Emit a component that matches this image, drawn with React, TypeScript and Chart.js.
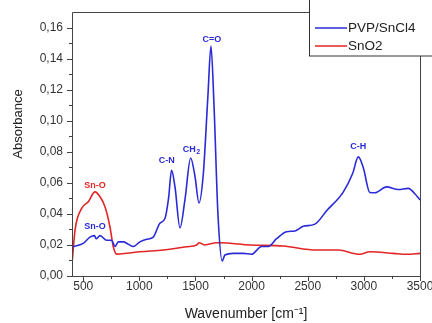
import React, { useEffect, useRef } from "react";
import { Chart, registerables } from "chart.js";

Chart.register(...registerables);

const pvpWavenumber = [400, 500, 560, 600, 615, 650, 709, 753, 783, 813, 857, 901, 946, 1005, 1065, 1124, 1183, 1228, 1260, 1287, 1318, 1362, 1406, 1457, 1496, 1531, 1570, 1610, 1638, 1665, 1700, 1738, 1762, 1836, 1925, 2000, 2089, 2148, 2222, 2311, 2386, 2460, 2564, 2668, 2816, 2900, 2950, 2994, 3053, 3098, 3202, 3306, 3395, 3454, 3500];
const pvpAbsorbance = [0.0188, 0.021, 0.025, 0.026, 0.024, 0.026, 0.023, 0.023, 0.019, 0.022, 0.022, 0.0205, 0.019, 0.022, 0.0236, 0.025, 0.034, 0.037, 0.05, 0.068, 0.057, 0.031, 0.049, 0.076, 0.064, 0.047, 0.066, 0.115, 0.148, 0.11, 0.04, 0.0096, 0.0135, 0.0146, 0.0146, 0.014, 0.019, 0.019, 0.024, 0.0285, 0.029, 0.032, 0.0334, 0.042, 0.054, 0.066, 0.0767, 0.07, 0.0538, 0.0536, 0.0574, 0.0557, 0.0564, 0.053, 0.049];

const sno2Wavenumber = [403, 427, 486, 545, 605, 650, 694, 738, 768, 798, 887, 1005, 1213, 1421, 1510, 1531, 1584, 1688, 1718, 1985, 2282, 2579, 2771, 2964, 3053, 3261, 3380, 3500];
const sno2Absorbance = [0.0103, 0.0296, 0.0435, 0.0478, 0.0542, 0.051, 0.0446, 0.0317, 0.0188, 0.0141, 0.0146, 0.0156, 0.0167, 0.0188, 0.02, 0.0214, 0.02, 0.0214, 0.0214, 0.02, 0.0193, 0.0167, 0.0167, 0.014, 0.0156, 0.0146, 0.014, 0.0146];

const seriesNames = ["PVP/SnCl4", "SnO2"];
const peakLabels = ["C=O", "C-N", "CH", "C-H", "Sn-O", "Sn-O"];
const peakWavenumbers = [1647, 1243, 1445, 2950, 605, 605];
const peakAbsorbances = [0.152, 0.0741, 0.0817, 0.0836, 0.0585, 0.0317];
const peakSeries = [0, 0, 0, 0, 1, 0];

const xTicks = [500, 1000, 1500, 2000, 2500, 3000, 3500];
const yTicks = [0, 0.02, 0.04, 0.06, 0.08, 0.1, 0.12, 0.14, 0.16];

const BLUE = "#2a2ad8";
const RED = "#e42525";
const AXIS = "#444";
const FONT = "'Liberation Sans', Arial, sans-serif";

const toPoints = (xs: number[], ys: number[]) => xs.map((x, i) => ({ x, y: ys[i] }));

const decorPlugin = {
  id: "decor",
  afterDraw(chart: any) {
    const { ctx, chartArea, scales } = chart;
    const xs = scales.x;
    const ys = scales.y;
    ctx.save();
    ctx.strokeStyle = AXIS;
    ctx.lineWidth = 1;
    // frame
    ctx.beginPath();
    ctx.moveTo(chartArea.left, chartArea.bottom + 0.5);
    ctx.lineTo(chartArea.right + 0.5, chartArea.bottom + 0.5);
    ctx.lineTo(chartArea.right + 0.5, chartArea.top + 0.5);
    ctx.lineTo(chartArea.left + 0.5, chartArea.top + 0.5);
    ctx.lineTo(chartArea.left + 0.5, chartArea.bottom + 0.5);
    ctx.stroke();
    // x ticks
    ctx.beginPath();
    for (let v = 500; v <= 3500; v += 250) {
      const px = Math.round(xs.getPixelForValue(v)) + 0.5;
      const len = v % 500 === 0 ? 5 : 3;
      ctx.moveTo(px, chartArea.bottom);
      ctx.lineTo(px, chartArea.bottom + len);
    }
    // y ticks
    for (let i = 0; i <= 16; i++) {
      const v = i * 0.01;
      const py = Math.round(ys.getPixelForValue(v)) + 0.5;
      const len = i % 2 === 0 ? 5 : 3;
      ctx.moveTo(chartArea.left, py);
      ctx.lineTo(chartArea.left - len, py);
    }
    ctx.stroke();

    // y axis title
    ctx.save();
    ctx.translate(18, 124);
    ctx.rotate(-Math.PI / 2);
    ctx.font = `13px ${FONT}`;
    ctx.fillStyle = "#222";
    ctx.textAlign = "center";
    ctx.textBaseline = "middle";
    ctx.fillText("Absorbance", 0, 0);
    ctx.restore();

    // peak annotations
    ctx.font = `bold 9px ${FONT}`;
    ctx.textAlign = "center";
    ctx.textBaseline = "middle";
    peakLabels.forEach((lab, i) => {
      const px = xs.getPixelForValue(peakWavenumbers[i]);
      const py = ys.getPixelForValue(peakAbsorbances[i]);
      ctx.fillStyle = peakSeries[i] === 0 ? BLUE : RED;
      ctx.fillText(lab, px, py);
      if (lab === "CH") {
        const w = ctx.measureText(lab).width;
        ctx.font = `bold 7px ${FONT}`;
        ctx.fillText("2", px + w / 2 + 2.5, py + 3);
        ctx.font = `bold 9px ${FONT}`;
      }
    });

    // legend
    ctx.fillStyle = "#fff";
    ctx.fillRect(309.5, -1, 130, 57);
    ctx.strokeStyle = "#333";
    ctx.lineWidth = 1;
    ctx.strokeRect(309.5, -1, 130, 57);
    ctx.font = `13.5px ${FONT}`;
    ctx.textAlign = "left";
    ctx.textBaseline = "middle";
    const rows = [28, 46];
    [BLUE, RED].forEach((c, i) => {
      ctx.strokeStyle = c;
      ctx.lineWidth = 1.5;
      ctx.beginPath();
      ctx.moveTo(315, rows[i]);
      ctx.lineTo(347, rows[i]);
      ctx.stroke();
      ctx.fillStyle = "#222";
      ctx.fillText(seriesNames[i], 348, rows[i] + 0.5);
    });
    ctx.restore();
  },
};

export default function App() {
  const ref = useRef<HTMLCanvasElement>(null);
  useEffect(() => {
    if (!ref.current) return;
    const chart = new Chart(ref.current, {
      type: "line",
      data: {
        datasets: [
          {
            label: seriesNames[0],
            data: toPoints(pvpWavenumber, pvpAbsorbance),
            borderColor: BLUE,
            borderWidth: 1.6,
            pointRadius: 0,
            cubicInterpolationMode: "monotone",
            fill: false,
          },
          {
            label: seriesNames[1],
            data: toPoints(sno2Wavenumber, sno2Absorbance),
            borderColor: RED,
            borderWidth: 1.6,
            pointRadius: 0,
            cubicInterpolationMode: "monotone",
            fill: false,
          },
        ],
      },
      options: {
        animation: false,
        responsive: false,
        maintainAspectRatio: false,
        layout: { padding: { top: 12, right: 12, left: 0, bottom: 0 } },
        plugins: { legend: { display: false }, tooltip: { enabled: false } },
        scales: {
          x: {
            type: "linear",
            min: 400,
            max: 3500,
            afterBuildTicks: (s: any) => {
              s.ticks = xTicks.map((v) => ({ value: v }));
            },
            afterFit: (s: any) => {
              s.height = 47;
              s.paddingLeft = 0;
              s.paddingRight = 0;
            },
            ticks: {
              color: "#333",
              font: { size: 12, family: FONT },
              padding: 3,
              maxRotation: 0,
              autoSkip: false,
              callback: (v: any) => String(v),
            },
            grid: { display: false, drawTicks: false },
            border: { display: false },
            title: {
              display: true,
              text: "Wavenumber [cm\u207B\u00B9]",
              color: "#222",
              font: { size: 14, family: FONT },
              padding: { top: 4, bottom: 0 },
            },
          },
          y: {
            type: "linear",
            min: 0,
            max: 0.17,
            afterBuildTicks: (s: any) => {
              s.ticks = yTicks.map((v) => ({ value: v }));
            },
            afterFit: (s: any) => {
              s.width = 72;
              s.paddingTop = 0;
              s.paddingBottom = 0;
            },
            ticks: {
              color: "#333",
              font: { size: 12, family: FONT },
              padding: 9,
              autoSkip: false,
              callback: (v: any) => Number(v).toFixed(2).replace(".", ","),
            },
            grid: { display: false, drawTicks: false },
            border: { display: false },
            title: { display: false },
          },
        },
      },
      plugins: [decorPlugin],
    });
    return () => chart.destroy();
  }, []);
  return (
    <div style={{ position: "absolute", left: 0, top: 0, width: 432, height: 323, background: "#fff" }}>
      <canvas ref={ref} width={432} height={323} style={{ display: "block" }} />
    </div>
  );
}
